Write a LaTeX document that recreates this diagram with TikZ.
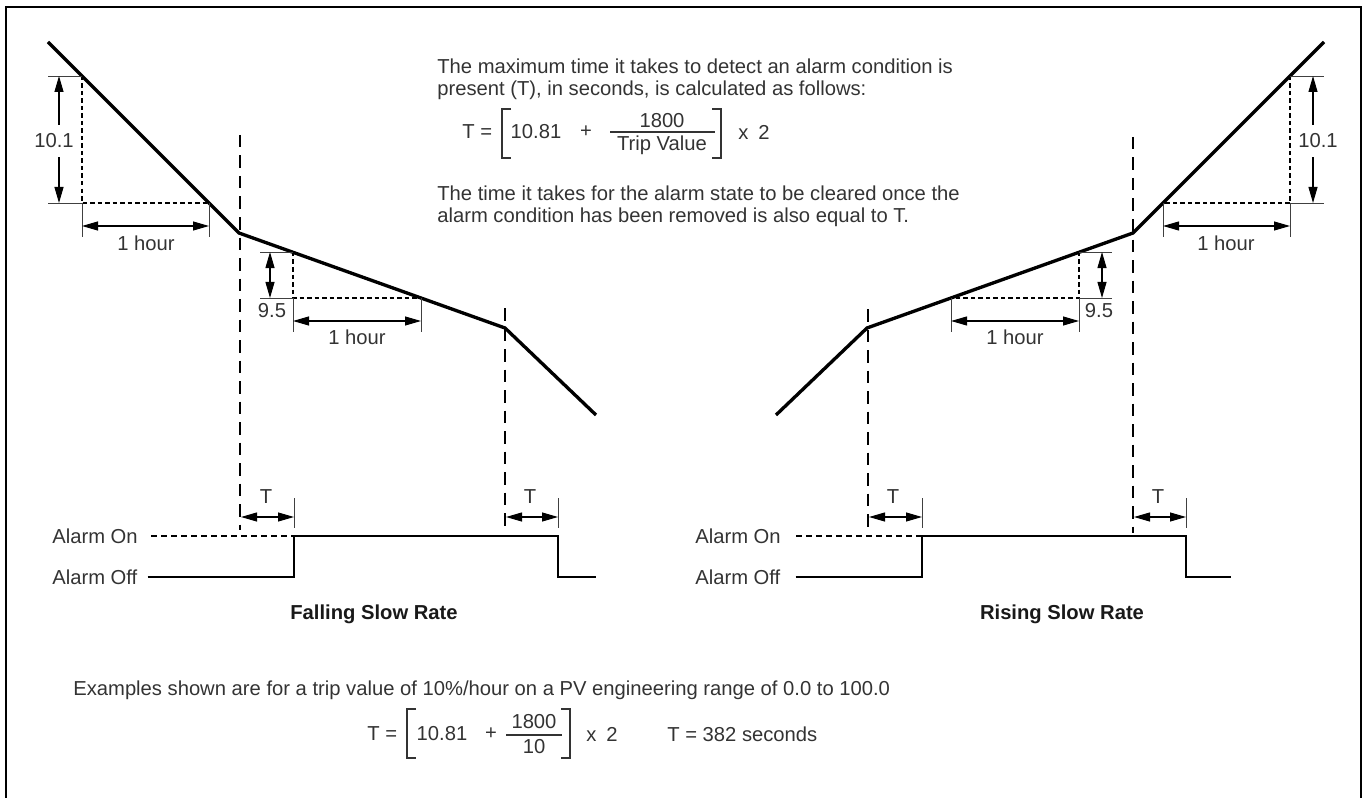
\documentclass[tikz,border=0pt]{standalone}
\usepackage{fontspec}
\setmainfont{Liberation Sans}
\usetikzlibrary{arrows.meta,calc}

\begin{document}
\begin{tikzpicture}[x=0.2mm,y=-0.2mm,
    lbl/.style={font=\fontsize{11.5}{12.4}\selectfont,text=black!80,inner sep=0pt},
    ttl/.style={lbl,font=\fontsize{11.5}{12.4}\selectfont\bfseries,text=black!90},
    curve/.style={line width=1.9pt},
    sig/.style={line width=0.9pt},
    dim/.style={line width=0.5pt,black!75},
    dimarrow/.style={line width=0.6pt,{Triangle[length=3.2mm,width=1.8mm]}-{Triangle[length=3.2mm,width=1.8mm]}},
    help/.style={line width=0.6pt,dash pattern=on 0.9mm off 0.6mm},
    marker/.style={line width=0.85pt,dash pattern=on 2.5mm off 1.6mm},
    gap/.style={fill=white,inner xsep=1pt,inner ysep=5pt},
    brk/.style={line width=0.7pt,black!80}]

        \useasboundingbox (0,0) rectangle (1367,798);
        \draw[line width=1.1pt] (6,798) -- (6,7) -- (1361,7) -- (1361,798);

        % Falling slow rate
        \coordinate (F0) at (48,42);
        \coordinate (F1) at (239,233);
        \coordinate (F2) at (505,328);
        \coordinate (F3) at (596,415);
        \draw[curve] (F0) -- (F1) -- (F2) -- (F3);

        % 10.1 per hour
        \coordinate (fa) at (82,76);
        \coordinate (fb) at (82,203);
        \coordinate (fc) at (209,203);
        \draw[help] (fa) -- (fb) -- (fc);
        \draw[dim] (fa) -- ++(-34,0) (fb) -- ++(-34,0);
        \draw[dim] (fb) -- ++(0,34) (fc) -- ++(0,34);
        \draw[dimarrow] (59,76) -- (59,203);
        \node[lbl,gap] (f101) at (54,141) {10.1};
        \draw[dimarrow] (82,226) -- (209,226);
        \node[lbl,anchor=north] (fhour1) at (146,236) {1 hour};

        % 9.5 per hour
        \coordinate (fd) at (293,252);
        \coordinate (fe) at (293,298);
        \coordinate (ff) at (421,298);
        \draw[help] (fd) -- (fe) -- (ff);
        \draw[dim] (fd) -- ++(-33,0) (fe) -- ++(-33,0);
        \draw[dim] (fe) -- ++(0,34) (ff) -- ++(0,34);
        \draw[dimarrow] (270,252) -- (270,298);
        \node[lbl] (f95) at (272,311) {9.5};
        \draw[dimarrow] (293,321) -- (421,321);
        \node[lbl,anchor=north] (fhour2) at (357,330) {1 hour};

        % Trip points
        \draw[marker] (240,135) -- (240,530);
        \draw[marker] (505,308) -- (505,533);

        % Alarm output
        \node[lbl,anchor=west] (fon) at (52,536) {Alarm On};
        \node[lbl,anchor=west] (foff) at (52,577) {Alarm Off};
        \draw[sig,dash pattern=on 1.2mm off 0.8mm] (fon.east) ++(13,0) -- (294,536);
        \draw[sig] (foff.east) ++(10,0) -- (294,577) -- (294,536) -- (558,536) -- (558,577) -- (596,577);
        \draw[dim] (294,498) -- (294,528) (558,498) -- (558,528);
        \draw[dimarrow] (241,517) -- (294,517);
        \draw[dimarrow] (506,517) -- (558,517);
        \node[lbl] (ft1) at (266,497) {T};
        \node[lbl] (ft2) at (530,497) {T};
        \node[ttl] (ftitle) at (374,614) {Falling Slow Rate};

        % Rising slow rate
        \coordinate (R0) at (776,415);
        \coordinate (R1) at (867,328);
        \coordinate (R2) at (1133,233);
        \coordinate (R3) at (1324,42);
        \draw[curve] (R0) -- (R1) -- (R2) -- (R3);

        % 10.1 per hour
        \coordinate (ra) at (1290,76);
        \coordinate (rb) at (1290,203);
        \coordinate (rc) at (1163,203);
        \draw[help] (ra) -- (rb) -- (rc);
        \draw[dim] (ra) -- ++(34,0) (rb) -- ++(34,0);
        \draw[dim] (rb) -- ++(0,34) (rc) -- ++(0,34);
        \draw[dimarrow] (1313,76) -- (1313,203);
        \node[lbl,gap] (r101) at (1318,141) {10.1};
        \draw[dimarrow] (1163,226) -- (1290,226);
        \node[lbl,anchor=north] (rhour1) at (1226,236) {1 hour};

        % 9.5 per hour
        \coordinate (rd) at (1079,252);
        \coordinate (re) at (1079,298);
        \coordinate (rf) at (951,298);
        \draw[help] (rd) -- (re) -- (rf);
        \draw[dim] (rd) -- ++(33,0) (re) -- ++(33,0);
        \draw[dim] (re) -- ++(0,34) (rf) -- ++(0,34);
        \draw[dimarrow] (1102,252) -- (1102,298);
        \node[lbl] (r95) at (1099,311) {9.5};
        \draw[dimarrow] (951,321) -- (1079,321);
        \node[lbl,anchor=north] (rhour2) at (1015,330) {1 hour};

        % Trip points
        \draw[marker] (868,309) -- (868,533);
        \draw[marker] (1133,137) -- (1133,533);

        % Alarm output
        \node[lbl,anchor=west] (ron) at (695,536) {Alarm On};
        \node[lbl,anchor=west] (roff) at (695,577) {Alarm Off};
        \draw[sig,dash pattern=on 1.2mm off 0.8mm] (ron.east) ++(15,0) -- (922,536);
        \draw[sig] (roff.east) ++(15,0) -- (922,577) -- (922,536) -- (1186,536) -- (1186,577) -- (1231,577);
        \draw[dim] (922,498) -- (922,528) (1186,498) -- (1186,528);
        \draw[dimarrow] (869,517) -- (922,517);
        \draw[dimarrow] (1134,517) -- (1186,517);
        \node[lbl] (rt1) at (893,497) {T};
        \node[lbl] (rt2) at (1158,497) {T};
        \node[ttl] (rtitle) at (1062,614) {Rising Slow Rate};

        % Text and formula
        \node[lbl,align=left,anchor=west] (intro) at (437,79)
            {The maximum time it takes to detect an alarm condition is\\present (T), in seconds, is calculated as follows:};
        \node[lbl,anchor=west] (teq) at (462,132) {T =};
        \draw[brk] (511,109) -- (502,109) -- (502,158) -- (511,158);
        \node[lbl] (tconst) at (536,132) {10.81};
        \node[lbl] (tplus) at (586,132) {+};
        \node[lbl] (tnum) at (662,121) {1800};
        \node[lbl] (tden) at (662,145) {Trip Value};
        \draw[brk] (610,132) -- (715,132);
        \draw[brk] (712,109) -- (721,109) -- (721,158) -- (712,158);
        \node[lbl] (ttimes) at (754,132) {x\enspace 2};
        \node[lbl,align=left,anchor=west] (clear) at (437,206)
            {The time it takes for the alarm state to be cleared once the\\alarm condition has been removed is also equal to T.};

        \node[lbl,anchor=west] (note) at (73,690)
            {Examples shown are for a trip value of 10\%/hour on a PV engineering range of 0.0 to 100.0};
        \node[lbl,anchor=west] (beq) at (367,734) {T =};
        \draw[brk] (416,709) -- (407,709) -- (407,758) -- (416,758);
        \node[lbl] (bconst) at (442,734) {10.81};
        \node[lbl] (bplus) at (491,734) {+};
        \node[lbl] (bnum) at (534,722) {1800};
        \node[lbl] (bden) at (534,747) {10};
        \draw[brk] (506,735) -- (562,735);
        \draw[brk] (561,709) -- (570,709) -- (570,758) -- (561,758);
        \node[lbl] (btimes) at (602,734) {x\enspace 2};
        \node[lbl,anchor=west] (bres) at (667,734) {T = 382 seconds};

\end{tikzpicture}
\end{document}
